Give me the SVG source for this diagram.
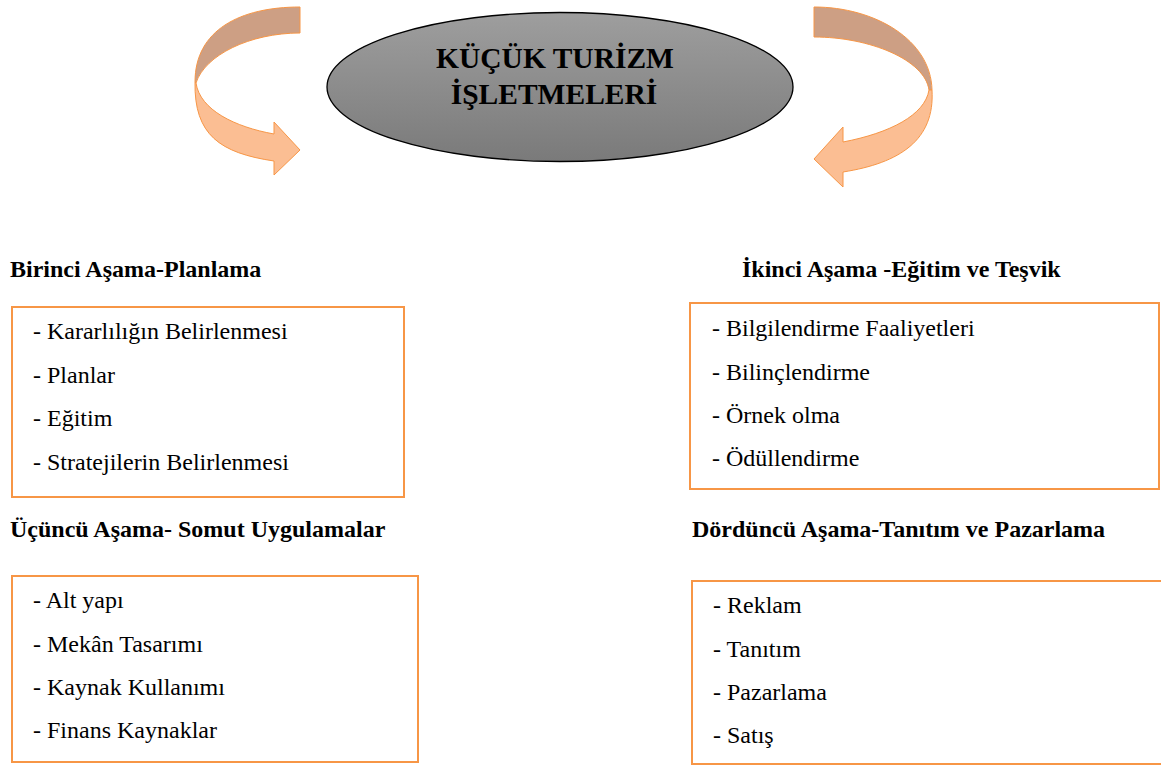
<svg xmlns="http://www.w3.org/2000/svg" width="1161" height="765" viewBox="0 0 1161 765">
  <defs>
    <linearGradient id="ellGrad" x1="0" y1="0" x2="0" y2="1">
      <stop offset="0" stop-color="#9e9e9e"/>
      <stop offset="1" stop-color="#7a7a7a"/>
    </linearGradient>
    <style>
      text { font-family: 'Liberation Serif', 'Times New Roman', 'DejaVu Serif', serif; fill: #000; }
      .head { font-weight: bold; font-size: 24px; }
      .item { font-size: 24px; }
      .title { font-weight: bold; font-size: 29.5px; text-anchor: middle; }
      .box { fill: #fff; stroke: #f79646; stroke-width: 2; }
      .front { fill: #fbbe93; stroke: #f79646; stroke-width: 1; stroke-linejoin: round; }
      .back { fill: #cd9f84; stroke: #f79646; stroke-width: 1; stroke-linejoin: round; }
    </style>
  </defs>
  <rect width="1161" height="765" fill="#fff"/>

  <g id="connectors">
    <g id="arrow-left">
      <path class="back" d="M300,7 C240,7 195,30 195,82 L196,83 C205,55 250,33 300,33 Z"/>
      <path class="front" d="M195,82 C194,135 220,153 274,161 L274,175 L300,150 L274,122 L274,134 C235,127 200,110 196,83 Z"/>
    </g>
    <g id="arrow-right">
      <path class="back" d="M814,7 C875,7 931,40 932,90 L929,90 C925,60 870,37 814,37 Z"/>
      <path class="front" d="M932,90 C935,140 900,163 843,172 L843,187 L814,159 L843,127 L843,142 C890,133 925,115 929,90 Z"/>
    </g>
  </g>

  <g id="center-node">
    <ellipse cx="560" cy="87" rx="233" ry="74.5" fill="url(#ellGrad)" stroke="#000" stroke-width="1.3"/>
    <text class="title" font-family="Liberation Serif, serif" x="555" y="68">KÜÇÜK TURİZM</text>
    <text class="title" font-family="Liberation Serif, serif" x="554" y="104">İŞLETMELERİ</text>
  </g>

  <g id="stage-1" font-family="Liberation Serif, serif">
    <text class="head" x="10" y="277">Birinci Aşama-Planlama</text>
    <rect class="box" x="12" y="307" width="392" height="190"/>
    <text class="item" x="33" y="339">- Kararlılığın Belirlenmesi</text>
    <text class="item" x="33" y="383">- Planlar</text>
    <text class="item" x="33" y="426">- Eğitim</text>
    <text class="item" x="33" y="470">- Stratejilerin Belirlenmesi</text>
  </g>

  <g id="stage-2" font-family="Liberation Serif, serif">
    <text class="head" x="742" y="277">İkinci Aşama -Eğitim ve Teşvik</text>
    <rect class="box" x="690" y="303" width="469" height="186"/>
    <text class="item" x="712" y="336">- Bilgilendirme Faaliyetleri</text>
    <text class="item" x="712" y="380">- Bilinçlendirme</text>
    <text class="item" x="712" y="423">- Örnek olma</text>
    <text class="item" x="712" y="466">- Ödüllendirme</text>
  </g>

  <g id="stage-3" font-family="Liberation Serif, serif">
    <text class="head" x="10" y="537">Üçüncü Aşama- Somut Uygulamalar</text>
    <rect class="box" x="12" y="576" width="406" height="186"/>
    <text class="item" x="33" y="608">- Alt yapı</text>
    <text class="item" x="33" y="652">- Mekân Tasarımı</text>
    <text class="item" x="33" y="695">- Kaynak Kullanımı</text>
    <text class="item" x="33" y="738">- Finans Kaynaklar</text>
  </g>

  <g id="stage-4" font-family="Liberation Serif, serif">
    <text class="head" x="692" y="537">Dördüncü Aşama-Tanıtım ve Pazarlama</text>
    <rect class="box" x="692" y="581" width="480" height="183"/>
    <text class="item" x="713" y="613">- Reklam</text>
    <text class="item" x="713" y="657">- Tanıtım</text>
    <text class="item" x="713" y="700">- Pazarlama</text>
    <text class="item" x="713" y="743">- Satış</text>
  </g>
</svg>
